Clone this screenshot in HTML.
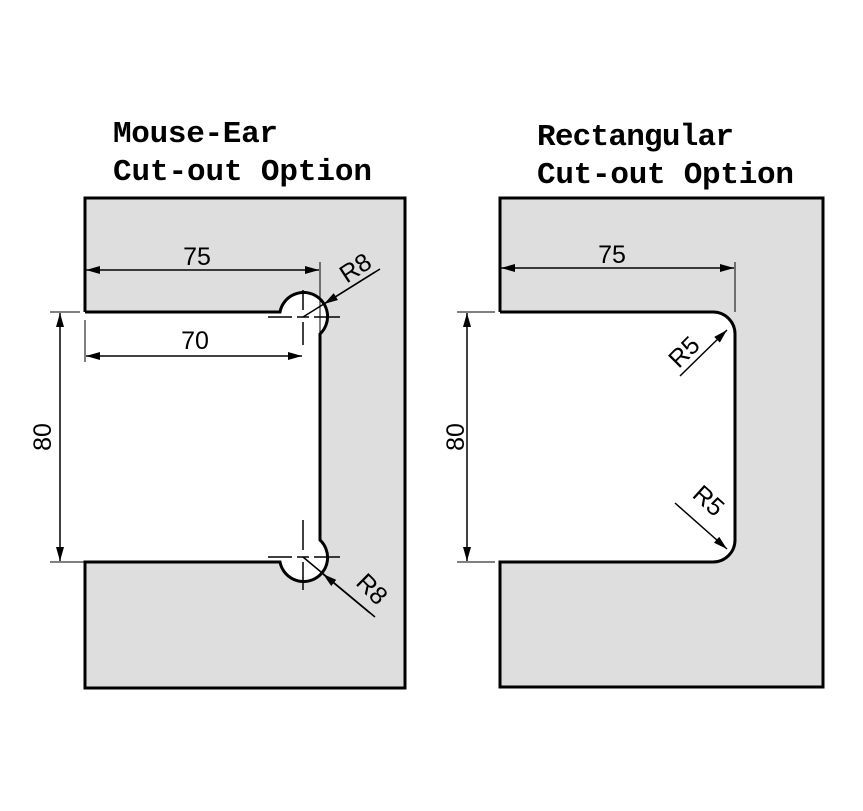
<!DOCTYPE html>
<html><head><meta charset="utf-8"><style>
html,body{margin:0;padding:0;background:#fff;}
svg{display:block;}
.t{font-family:"Liberation Mono",monospace;font-weight:bold;font-size:31px;fill:#000;}
.n{font-family:"Liberation Sans",sans-serif;font-size:25px;fill:#000;}
</style></head><body>
<svg width="863" height="811" viewBox="0 0 863 811" xmlns="http://www.w3.org/2000/svg">
<defs>
<marker id="a" markerWidth="14" markerHeight="8" refX="14" refY="4" orient="auto-start-reverse" markerUnits="userSpaceOnUse">
<path d="M0,0 L14,4 L0,8 Z" fill="#000"/></marker>
</defs>
<text class="t" x="113" y="142" textLength="165">Mouse-Ear</text>
<text class="t" x="113" y="180" textLength="259">Cut-out Option</text>
<text class="t" x="537" y="145" textLength="197">Rectangular</text>
<text class="t" x="537" y="183" textLength="257">Cut-out Option</text>

<!-- Left panel -->
<path d="M85,198 H405 V688 H85 V562 H280 A24,24 0 1 0 320,540 V334 A24,24 0 1 0 280,312 H85 Z" fill="#dedede"/>
<path d="M85,312 V198 H405 V688 H85 V562 H280 A24,24 0 1 0 320,540 V334 A24,24 0 1 0 280,312 H85" fill="none" stroke="#000" stroke-width="3"/>
<g stroke="#000" stroke-width="1.5">
<path d="M268,317 H292 M297,317 H309 M314,317 H340 M303,290 V310 M303,322 V345" />
<path d="M268,557 H292 M297,557 H309 M314,557 H340 M303,520 V550 M303,562 V590" />
</g>
<line x1="320" y1="262" x2="320" y2="335" stroke="#000" stroke-width="1"/>
<line x1="86" y1="270" x2="319" y2="270" stroke="#000" stroke-width="1.5" marker-start="url(#a)" marker-end="url(#a)"/>
<text class="n" x="197" y="265" text-anchor="middle">75</text>
<line x1="85" y1="320" x2="85" y2="362" stroke="#000" stroke-width="1"/>
<line x1="86" y1="356" x2="302" y2="356" stroke="#000" stroke-width="1.5" marker-start="url(#a)" marker-end="url(#a)"/>
<text class="n" x="195" y="349" text-anchor="middle">70</text>
<line x1="50" y1="312" x2="80" y2="312" stroke="#000" stroke-width="1"/>
<line x1="50" y1="562" x2="85" y2="562" stroke="#000" stroke-width="1"/>
<line x1="60" y1="313" x2="60" y2="561" stroke="#000" stroke-width="1.5" marker-start="url(#a)" marker-end="url(#a)"/>
<text class="n" x="0" y="0" text-anchor="middle" transform="translate(51,437) rotate(-90)">80</text>
<line x1="303" y1="317" x2="380" y2="269" stroke="#000" stroke-width="1.5"/>
<line x1="375" y1="272" x2="324" y2="304" stroke="#000" stroke-width="1.5" marker-end="url(#a)"/>
<text class="n" x="0" y="0" text-anchor="middle" transform="translate(360,275) rotate(-33)">R8</text>
<line x1="303" y1="557" x2="375" y2="617" stroke="#000" stroke-width="1.5"/>
<line x1="370" y1="613" x2="323" y2="574" stroke="#000" stroke-width="1.5" marker-end="url(#a)"/>
<text class="n" x="0" y="0" text-anchor="middle" transform="translate(366,595) rotate(45)">R8</text>

<!-- Right panel -->
<path d="M500,198 H823 V687 H500 V562 H713 A22,22 0 0 0 735,540 V334 A22,22 0 0 0 713,312 H500 Z" fill="#dedede"/>
<path d="M500,312 V198 H823 V687 H500 V562 H713 A22,22 0 0 0 735,540 V334 A22,22 0 0 0 713,312 H500" fill="none" stroke="#000" stroke-width="3"/>
<line x1="735" y1="262" x2="735" y2="312" stroke="#000" stroke-width="1"/>
<line x1="501" y1="268" x2="734" y2="268" stroke="#000" stroke-width="1.5" marker-start="url(#a)" marker-end="url(#a)"/>
<text class="n" x="612" y="263" text-anchor="middle">75</text>
<line x1="457" y1="312" x2="495" y2="312" stroke="#000" stroke-width="1"/>
<line x1="457" y1="562" x2="495" y2="562" stroke="#000" stroke-width="1"/>
<line x1="467" y1="313" x2="467" y2="561" stroke="#000" stroke-width="1.5" marker-start="url(#a)" marker-end="url(#a)"/>
<text class="n" x="0" y="0" text-anchor="middle" transform="translate(464,437) rotate(-90)">80</text>
<line x1="680" y1="376" x2="727" y2="330" stroke="#000" stroke-width="1.5" marker-end="url(#a)"/>
<text class="n" x="0" y="0" text-anchor="middle" transform="translate(690,358) rotate(-45)">R5</text>
<line x1="675" y1="503" x2="727" y2="549" stroke="#000" stroke-width="1.5" marker-end="url(#a)"/>
<text class="n" x="0" y="0" text-anchor="middle" transform="translate(703,507) rotate(42)">R5</text>
</svg>
</body></html>
